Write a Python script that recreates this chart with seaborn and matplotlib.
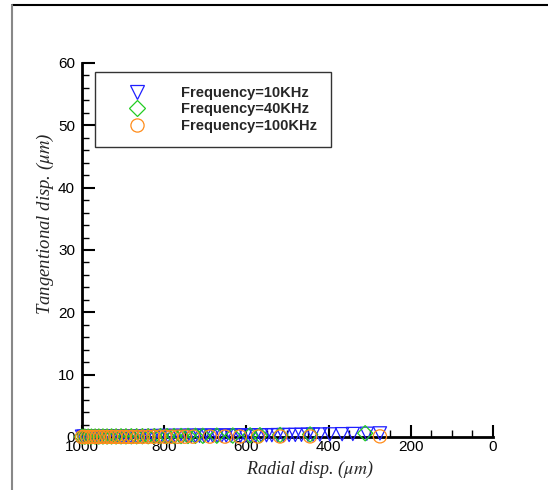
import matplotlib
matplotlib.use("Agg")
import matplotlib.pyplot as plt
import matplotlib.lines as mlines
from matplotlib.ticker import MultipleLocator
import seaborn as sns
import pandas as pd

# ---- data ----
blue_x = [1000, 996, 991, 986, 980, 975, 969, 963, 957, 951, 945, 938, 932, 925, 918,
          911, 904, 897, 890, 882, 875, 867, 859, 851, 843, 835, 826, 818, 809, 800,
          791, 782, 773, 763, 754, 744, 734, 724, 714, 703, 693, 682, 671, 660, 649,
          637, 626, 614, 602, 590, 577, 564, 551, 538, 524, 510, 496, 481, 466, 450,
          438, 421, 397, 367, 341, 307, 275]
blue_y = [0.05, 0.05, 0.05, 0.06, 0.06, 0.06, 0.07, 0.07, 0.07, 0.08, 0.08, 0.08, 0.09, 0.09, 0.09,
          0.10, 0.10, 0.10, 0.11, 0.11, 0.11, 0.12, 0.12, 0.12, 0.13, 0.13, 0.13, 0.14, 0.14, 0.15,
          0.15, 0.15, 0.16, 0.16, 0.17, 0.17, 0.18, 0.18, 0.19, 0.19, 0.20, 0.20, 0.21, 0.21, 0.22,
          0.22, 0.23, 0.24, 0.24, 0.25, 0.26, 0.27, 0.28, 0.29, 0.30, 0.31, 0.32, 0.33, 0.35, 0.36,
          0.38, 0.40, 0.42, 0.45, 0.48, 0.52, 0.58]

green_x = [1000, 993, 985, 977, 968, 959, 949, 939, 928, 917, 905, 893, 880, 867, 853,
           839, 824, 809, 793, 776, 759, 742, 724, 706, 672, 633, 591, 567, 518, 445, 311]
green_y = [0.05, 0.05, 0.06, 0.06, 0.07, 0.07, 0.08, 0.08, 0.09, 0.09, 0.10, 0.10, 0.11, 0.11, 0.12,
           0.12, 0.13, 0.14, 0.14, 0.15, 0.16, 0.17, 0.18, 0.19, 0.21, 0.23, 0.26, 0.28, 0.32, 0.40, 0.60]

orange_x = [1000, 994, 987, 980, 972, 964, 956, 947, 938, 929, 919, 909, 898, 887, 876, 864,
            852, 839, 826, 812, 798, 783, 767, 750, 730, 689, 652, 616, 572, 518, 445, 275]
orange_y = [0.00, 0.00, 0.00, 0.00, 0.01, 0.01, 0.01, 0.01, 0.01, 0.01, 0.02, 0.02, 0.02, 0.02, 0.02, 0.03,
            0.03, 0.03, 0.03, 0.04, 0.04, 0.04, 0.05, 0.05, 0.05, 0.06, 0.06, 0.07, 0.07, 0.08, 0.09, 0.10]

series_labels = ["Frequency=10KHz", "Frequency=40KHz", "Frequency=100KHz"]
x_ticks = [1000, 800, 600, 400, 200, 0]
y_ticks = [0, 10, 20, 30, 40, 50, 60]

sns.set_style("white")
plt.rcParams["font.family"] = ["Liberation Sans", "DejaVu Sans"]
plt.rcParams["mathtext.fontset"] = "stix"

fig = plt.figure(figsize=(5.48, 4.90), dpi=100)
ax = fig.add_axes([0.1496, 0.1082, 0.75, 0.7633])

specs = [
    (blue_x, blue_y, "v", "#1f1fff", series_labels[0]),
    (green_x, green_y, "D", "#22cc22", series_labels[1]),
    (orange_x, orange_y, "o", "#ff8c1a", series_labels[2]),
]
handles = []
for xs, ys, mk, col, lab in specs:
    df = pd.DataFrame({"x": xs, "y": ys})
    ms = 90 if mk != "D" else 60
    sns.scatterplot(data=df, x="x", y="y", marker=mk, s=ms, color=col,
                    facecolors="none", edgecolors=col, linewidth=0.9,
                    clip_on=False, ax=ax, legend=False, zorder=3)
    handles.append(mlines.Line2D([], [], linestyle="", marker=mk, markersize=9.5 if mk != "D" else 8,
                                 markerfacecolor="none", markeredgecolor=col,
                                 markeredgewidth=0.9, label=lab))

ax.set_xlim(1000, 0)
ax.set_ylim(0, 60)
ax.set_xticks(x_ticks)
ax.set_yticks(y_ticks)
ax.xaxis.set_minor_locator(MultipleLocator(50))
ax.yaxis.set_minor_locator(MultipleLocator(2))
ax.tick_params(which="major", direction="in", length=9, width=1.5, labelsize=11,
               colors="black")
ax.tick_params(axis="x", which="major", pad=2)
ax.tick_params(axis="y", which="major", pad=5)
ax.tick_params(which="minor", direction="in", length=5, width=1.0, colors="black")
ax.tick_params(axis="x", which="both", bottom=True, top=False)
ax.tick_params(axis="y", which="both", left=True, right=False)

for side in ["top", "right"]:
    ax.spines[side].set_visible(False)
for side in ["left", "bottom"]:
    ax.spines[side].set_linewidth(2)
    ax.spines[side].set_color("black")

ax.set_xlabel(r"Radial disp. ($\mu m$)", fontsize=13, family="Liberation Serif", style="italic")
ax.set_ylabel(r"Tangentional disp. ($\mu m$)", fontsize=13.5, family="Liberation Serif", style="italic")
ax.xaxis.set_label_coords(0.555, -0.058)
ax.yaxis.set_label_coords(-0.063, 0.57)

leg = ax.legend(handles=handles, loc="upper left", bbox_to_anchor=(0.032, 0.976),
                borderaxespad=0, frameon=True, fancybox=False, borderpad=0.95,
                handlelength=3.85, handletextpad=1.1, labelspacing=0.18,
                prop={"family": "Liberation Sans", "weight": "bold", "size": 10.5})
leg.get_frame().set_edgecolor("black")
leg.get_frame().set_linewidth(1.0)

# figure border lines
fig.add_artist(mlines.Line2D([0.0219, 1.0], [0.9898, 0.9898], color="black", linewidth=1.5,
                             transform=fig.transFigure))
fig.add_artist(mlines.Line2D([0.0219, 0.0219], [0.0, 0.9898], color="#888888", linewidth=1.5,
                             transform=fig.transFigure))

fig.savefig("out.png", dpi=100)
